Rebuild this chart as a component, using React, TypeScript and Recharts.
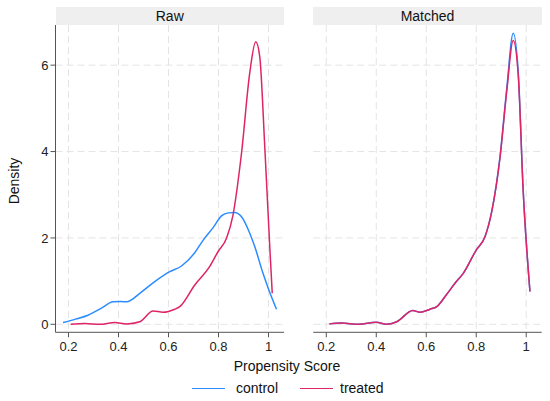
import { LineChart, Line, XAxis, YAxis, CartesianGrid } from "recharts";

// kernel density estimates: [propensity score, density]
const rawControl: [number, number][] = [
    [0.178, 0.04], [0.228, 0.12], [0.278, 0.21], [0.33, 0.37], [0.378, 0.52],
    [0.41, 0.53], [0.432, 0.52], [0.49, 0.74], [0.545, 0.99], [0.605, 1.22],
    [0.652, 1.35], [0.7, 1.62], [0.739, 1.95], [0.78, 2.25], [0.812, 2.51],
    [0.84, 2.58], [0.865, 2.59], [0.892, 2.49], [0.925, 2.11], [0.945, 1.8],
    [0.978, 1.18], [1.0, 0.82], [1.032, 0.35],
];

const rawTreated: [number, number][] = [
    [0.209, 0.0], [0.265, 0.02], [0.325, 0.0], [0.385, 0.04], [0.432, 0.01],
    [0.485, 0.06], [0.538, 0.31], [0.578, 0.28], [0.625, 0.35], [0.645, 0.41],
    [0.705, 0.91], [0.765, 1.34], [0.798, 1.68], [0.832, 1.99], [0.858, 2.53],
    [0.892, 3.96], [0.925, 5.82], [0.949, 6.54], [0.965, 6.2], [0.985, 4.12],
    [1.005, 1.8], [1.015, 0.72],
];

const matchedControl: [number, number][] = [
    [0.212, 0.01], [0.26, 0.03], [0.33, 0.0], [0.4, 0.05], [0.44, 0.0],
    [0.482, 0.06], [0.546, 0.32], [0.575, 0.28], [0.615, 0.35], [0.642, 0.41],
    [0.68, 0.68], [0.715, 0.95], [0.748, 1.18], [0.8, 1.72], [0.835, 2.03],
    [0.862, 2.61], [0.895, 3.87], [0.922, 5.45], [0.948, 6.74], [0.968, 5.85],
    [0.988, 3.1], [1.015, 0.76],
];

const matchedTreated: [number, number][] = [
    [0.212, 0.01], [0.26, 0.03], [0.33, 0.0], [0.4, 0.05], [0.44, 0.0],
    [0.482, 0.06], [0.546, 0.32], [0.575, 0.28], [0.615, 0.35], [0.642, 0.41],
    [0.68, 0.68], [0.715, 0.95], [0.748, 1.18], [0.8, 1.72], [0.835, 2.03],
    [0.862, 2.61], [0.895, 3.85], [0.922, 5.39], [0.948, 6.57], [0.968, 5.78],
    [0.988, 3.07], [1.015, 0.76],
];

const xTicks = [0.2, 0.4, 0.6, 0.8, 1];
const yTicks = [0, 2, 4, 6];
const panelTitles = ["Raw", "Matched"];
const seriesNames = ["control", "treated"];

const X_DOMAIN: [number, number] = [0.148, 1.062];
const Y_DOMAIN: [number, number] = [-0.185, 6.93];

const COLORS = ["#2b8cff", "#de2467"];
const FONT = "'Liberation Sans', Arial, sans-serif";

const toPoints = (arr: [number, number][]) => arr.map(([x, y]) => ({ x, y }));

interface PanelProps {
    left: number;
    width: number;
    marginLeft: number;
    marginRight: number;
    showY: boolean;
    control: [number, number][];
    treated: [number, number][];
}

function Panel({ left, width, marginLeft, marginRight, showY, control, treated }: PanelProps) {
    return (
        <div style={{ position: "absolute", left, top: 0 }}>
            <LineChart
                width={width}
                height={401}
                margin={{ top: 25, right: marginRight, left: marginLeft, bottom: 38.7 }}
            >
                <CartesianGrid stroke="#e4e4e4" strokeDasharray="7 4" syncWithTicks />
                <XAxis
                    type="number"
                    dataKey="x"
                    domain={X_DOMAIN}
                    ticks={xTicks}
                    allowDataOverflow
                    height={30}
                    tickSize={5}
                    tickMargin={4}
                    stroke="#555"
                    tick={{ fill: "#222", fontSize: 13, fontFamily: FONT }}
                />
                <YAxis
                    type="number"
                    domain={Y_DOMAIN}
                    ticks={yTicks}
                    allowDataOverflow
                    hide={!showY}
                    width={showY ? 55.5 : 0}
                    tickSize={5}
                    stroke="#555"
                    tick={{ fill: "#222", fontSize: 13, fontFamily: FONT }}
                />
                <Line
                    data={toPoints(control)}
                    dataKey="y"
                    type="monotone"
                    stroke={COLORS[0]}
                    strokeWidth={1.5}
                    dot={false}
                    isAnimationActive={false}
                />
                <Line
                    data={toPoints(treated)}
                    dataKey="y"
                    type="monotone"
                    stroke={COLORS[1]}
                    strokeWidth={1.5}
                    dot={false}
                    isAnimationActive={false}
                />
            </LineChart>
        </div>
    );
}

const stripStyle = {
    position: "absolute" as const,
    top: 7,
    height: 18,
    lineHeight: "18px",
    background: "#efefef",
    textAlign: "center" as const,
    fontSize: 14,
    color: "#111",
};

export default function App() {
    return (
        <div
            style={{
                position: "absolute",
                left: 0,
                top: 0,
                width: 550,
                height: 401,
                background: "#fff",
                fontFamily: FONT,
            }}
        >
            <Panel
                left={0}
                width={290}
                marginLeft={0}
                marginRight={6}
                showY
                control={rawControl}
                treated={rawTreated}
            />
            <Panel
                left={290}
                width={260}
                marginLeft={23.3}
                marginRight={8.3}
                showY={false}
                control={matchedControl}
                treated={matchedTreated}
            />

            <div style={{ ...stripStyle, left: 55.5, width: 228.5 }}>{panelTitles[0]}</div>
            <div style={{ ...stripStyle, left: 313.3, width: 228.4 }}>{panelTitles[1]}</div>

            <div
                style={{
                    position: "absolute",
                    left: 14,
                    top: 181,
                    transform: "translate(-50%, -50%) rotate(-90deg)",
                    fontSize: 14,
                    color: "#111",
                    whiteSpace: "nowrap",
                }}
            >
                Density
            </div>

            <div
                style={{
                    position: "absolute",
                    left: 287,
                    top: 366,
                    transform: "translate(-50%, -50%)",
                    fontSize: 14,
                    color: "#111",
                    whiteSpace: "nowrap",
                }}
            >
                Propensity Score
            </div>

            {seriesNames.map((name, i) => (
                <div
                    key={name}
                    style={{
                        position: "absolute",
                        left: i === 0 ? 192 : 300,
                        top: 380,
                        height: 16,
                        display: "flex",
                        alignItems: "center",
                        fontSize: 14,
                        color: "#111",
                        whiteSpace: "nowrap",
                    }}
                >
                    <span
                        style={{
                            display: "inline-block",
                            width: 33,
                            height: 0,
                            borderTop: `1.5px solid ${COLORS[i]}`,
                            marginRight: i === 0 ? 11 : 7,
                        }}
                    />
                    {name}
                </div>
            ))}
        </div>
    );
}
